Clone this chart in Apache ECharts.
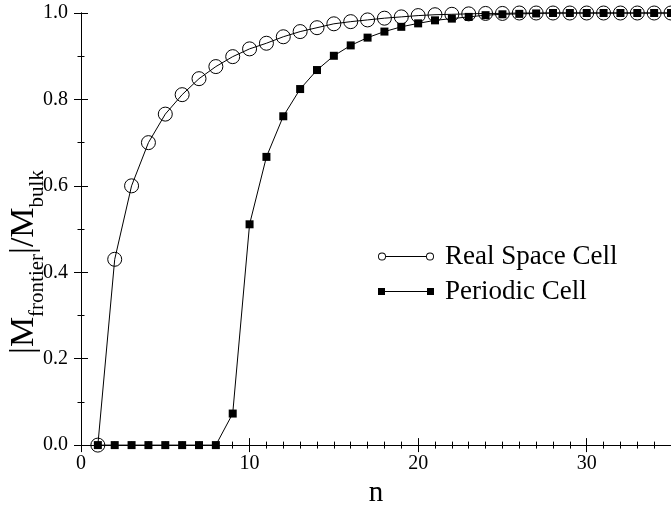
<!DOCTYPE html>
<html>
<head>
<meta charset="utf-8">
<script src="https://cdn.jsdelivr.net/npm/echarts@6/dist/echarts.min.js"></script>
<style>
html,body{margin:0;padding:0;background:#fff;}
#chart{width:671px;height:513px;}
</style>
</head>
<body>
<div id="chart"></div>
<script>
var nValues = [1,2,3,4,5,6,7,8,9,10,11,12,13,14,15,16,17,18,19,20,21,22,23,24,25,26,27,28,29,30,31,32,33,34,35];
var realSpace = [0,0.43,0.60,0.70,0.766,0.811,0.848,0.876,0.899,0.917,0.930,0.945,0.957,0.966,0.975,0.980,0.984,0.988,0.991,0.994,0.996,0.997,0.998,0.999,0.999,1,1,1,1,1,1,1,1,1,1];
var periodic = [0,0,0,0,0,0,0,0,0.073,0.511,0.667,0.761,0.824,0.868,0.901,0.925,0.943,0.957,0.968,0.976,0.983,0.987,0.991,0.995,0.997,0.998,0.999,1,1,1,1,1,1,1,1];
var seriesNames = ['Real Space Cell','Periodic Cell'];
var yTicks = [0,0.2,0.4,0.6,0.8,1.0];

var FONT = 'Liberation Serif';
function pairs(xs, ys){ return xs.map(function(x,i){ return [x, ys[i]]; }); }

var circleIcon = 'path://M0 4A4 4 0 1 1 8 4A4 4 0 1 1 0 4Z M0.9 4A3.1 3.1 0 1 0 7.1 4A3.1 3.1 0 1 0 0.9 4Z M8 3.5L48 3.5L48 4.5L8 4.5Z M48 4A4 4 0 1 1 56 4A4 4 0 1 1 48 4Z M48.9 4A3.1 3.1 0 1 0 55.1 4A3.1 3.1 0 1 0 48.9 4Z';
var squareIcon = 'path://M0 0.5L7 0.5L7 7.5L0 7.5Z M7 3.5L49 3.5L49 4.5L7 4.5Z M49 0.5L56 0.5L56 7.5L49 7.5Z M0 0L0.01 0L0.01 0.01Z M0 8L0.01 8L0.01 7.99Z';

var axisLineStyle = {lineStyle:{color:'#000',width:1}};
var chart = echarts.init(document.getElementById('chart'), null, {renderer:'canvas'});
chart.setOption({
  animation:false,
  backgroundColor:'#fff',
  grid:{left:81,right:-3,top:13,bottom:61,containLabel:false},
  xAxis:[{
    type:'value',position:'bottom',min:0,max:35,interval:10,
    axisLine:axisLineStyle,
    axisTick:{inside:true,length:7,lineStyle:{color:'#000'}},
    minorTick:{show:true,splitNumber:10,length:3.5,lineStyle:{color:'#000'}},
    axisLabel:{color:'#000',fontFamily:FONT,fontSize:20,margin:9,showMaxLabel:false},
    splitLine:{show:false},
    name:'n',nameLocation:'middle',nameGap:31,
    nameTextStyle:{color:'#000',fontFamily:FONT,fontSize:29}
  },{
    type:'value',position:'top',min:0,max:35,interval:10,
    axisLine:axisLineStyle,
    axisTick:{inside:true,length:7,lineStyle:{color:'#000'}},
    minorTick:{show:true,splitNumber:10,length:3.5,lineStyle:{color:'#000'}},
    axisLabel:{show:false},splitLine:{show:false}
  }],
  yAxis:[{
    type:'value',position:'left',min:0,max:1,interval:0.2,
    axisLine:axisLineStyle,
    axisTick:{inside:true,length:7,lineStyle:{color:'#000'}},
    minorTick:{show:true,splitNumber:2,length:3.5,lineStyle:{color:'#000'}},
    axisLabel:{color:'#000',fontFamily:FONT,fontSize:20,margin:13,
      formatter:function(v){ return v.toFixed(1); }},
    splitLine:{show:false}
  },{
    type:'value',position:'right',min:0,max:1,interval:0.2,
    axisLine:axisLineStyle,
    axisTick:{inside:true,length:7,lineStyle:{color:'#000'}},
    minorTick:{show:true,splitNumber:2,length:3.5,lineStyle:{color:'#000'}},
    axisLabel:{show:false},splitLine:{show:false}
  }],
  legend:{
    orient:'vertical',left:373,top:238,itemWidth:56,itemHeight:8,itemGap:8,
    align:'left',
    itemStyle:{color:'#000',borderWidth:0},
    textStyle:{color:'#000',fontFamily:FONT,fontSize:27,lineHeight:27,padding:[0,0,0,6]},
    data:[{name:seriesNames[0],icon:circleIcon},{name:seriesNames[1],icon:squareIcon}]
  },
  graphic:[{
    type:'text',x:24,y:262,rotation:Math.PI/2,
    style:{
      text:'{m||M}{s|frontier}{m||/M}{s|bulk}',
      align:'center',verticalAlign:'middle',
      fill:'#000',
      rich:{
        m:{fontFamily:FONT,fontSize:34,lineHeight:34,verticalAlign:'top',fill:'#000'},
        s:{fontFamily:FONT,fontSize:21,lineHeight:21,verticalAlign:'top',padding:[20,0,0,0],fill:'#000'}
      }
    }
  }],
  series:[{
    name:seriesNames[0],type:'line',data:pairs(nValues,realSpace),
    symbol:'circle',symbolSize:14,clip:false,
    lineStyle:{color:'#000',width:1},
    itemStyle:{color:'rgba(0,0,0,0)',borderColor:'#000',borderWidth:1},
    z:2
  },{
    name:seriesNames[1],type:'line',data:pairs(nValues,periodic),
    symbol:'rect',symbolSize:8,clip:false,
    lineStyle:{color:'#000',width:1},
    itemStyle:{color:'#000',borderWidth:0},
    z:3
  }]
});
</script>
</body>
</html>
